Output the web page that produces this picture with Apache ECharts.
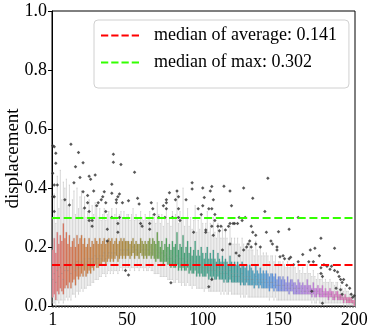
<!DOCTYPE html>
<html>
<head>
<meta charset="utf-8">
<script src="https://cdn.jsdelivr.net/npm/echarts@6/dist/echarts.min.js"></script>
<style>
  html, body { margin: 0; padding: 0; background: #fff; }
  #chart { width: 374px; height: 333px; }
</style>
</head>
<body>
<div id="chart"></div>
<script>
// box statistics per category (1..200)
const lowWhisker = [
  0.01,0.01,0.00,0.02,0.01,0.02,0.02,0.01,0.02,0.03,
  0.02,0.03,0.02,0.04,0.04,0.03,0.05,0.04,0.05,0.06,
  0.05,0.06,0.06,0.07,0.07,0.07,0.08,0.08,0.09,0.09,
  0.09,0.10,0.10,0.11,0.11,0.10,0.11,0.12,0.11,0.12,
  0.11,0.12,0.12,0.11,0.12,0.13,0.12,0.13,0.12,0.13,
  0.13,0.12,0.13,0.13,0.12,0.13,0.13,0.12,0.13,0.13,
  0.12,0.13,0.12,0.12,0.13,0.12,0.12,0.11,0.11,0.11,
  0.11,0.10,0.10,0.10,0.10,0.10,0.09,0.09,0.09,0.09,
  0.08,0.08,0.09,0.08,0.08,0.07,0.08,0.07,0.07,0.08,
  0.07,0.07,0.06,0.07,0.07,0.06,0.06,0.06,0.06,0.06,
  0.05,0.06,0.06,0.05,0.05,0.05,0.05,0.05,0.05,0.05,
  0.05,0.04,0.05,0.04,0.05,0.04,0.04,0.05,0.04,0.04,
  0.04,0.04,0.04,0.04,0.03,0.04,0.03,0.03,0.04,0.03,
  0.03,0.03,0.03,0.03,0.03,0.03,0.03,0.03,0.03,0.03,
  0.03,0.03,0.03,0.02,0.03,0.03,0.02,0.03,0.02,0.02,
  0.02,0.02,0.02,0.02,0.02,0.02,0.02,0.02,0.02,0.02,
  0.02,0.02,0.02,0.02,0.02,0.02,0.02,0.02,0.02,0.02,
  0.02,0.01,0.02,0.01,0.01,0.02,0.01,0.01,0.01,0.01,
  0.01,0.01,0.01,0.01,0.01,0.01,0.01,0.01,0.01,0.01,
  0.01,0.01,0.00,0.01,0.00,0.00,0.00,0.00,0.00,0.00
];
const q1 = [
  0.03,0.04,0.02,0.05,0.04,0.06,0.05,0.04,0.06,0.07,
  0.06,0.08,0.06,0.08,0.09,0.07,0.10,0.09,0.10,0.11,
  0.10,0.12,0.10,0.11,0.12,0.11,0.13,0.12,0.14,0.13,
  0.13,0.14,0.14,0.15,0.15,0.14,0.15,0.16,0.15,0.16,
  0.15,0.16,0.17,0.15,0.16,0.17,0.16,0.17,0.16,0.17,
  0.17,0.16,0.17,0.18,0.16,0.17,0.17,0.16,0.18,0.17,
  0.16,0.17,0.16,0.17,0.17,0.16,0.17,0.16,0.15,0.16,
  0.16,0.15,0.15,0.14,0.15,0.15,0.14,0.14,0.13,0.14,
  0.13,0.13,0.14,0.12,0.13,0.12,0.13,0.12,0.12,0.13,
  0.11,0.12,0.11,0.11,0.12,0.10,0.11,0.10,0.11,0.10,
  0.10,0.10,0.11,0.09,0.10,0.09,0.10,0.09,0.09,0.10,
  0.09,0.09,0.09,0.08,0.09,0.08,0.08,0.09,0.08,0.08,
  0.08,0.08,0.08,0.08,0.07,0.08,0.07,0.07,0.08,0.07,
  0.07,0.07,0.07,0.06,0.07,0.07,0.06,0.07,0.06,0.06,
  0.06,0.06,0.06,0.05,0.06,0.06,0.05,0.06,0.05,0.05,
  0.05,0.05,0.05,0.05,0.05,0.05,0.04,0.05,0.05,0.04,
  0.04,0.04,0.04,0.04,0.04,0.04,0.04,0.04,0.04,0.04,
  0.04,0.03,0.04,0.03,0.03,0.04,0.03,0.03,0.03,0.03,
  0.03,0.03,0.02,0.03,0.03,0.02,0.02,0.03,0.02,0.02,
  0.02,0.02,0.01,0.02,0.01,0.01,0.01,0.01,0.01,0.00
];
const medians = [
  0.09,0.11,0.08,0.12,0.10,0.13,0.11,0.09,0.12,0.13,
  0.12,0.14,0.11,0.13,0.14,0.12,0.15,0.13,0.14,0.15,
  0.14,0.16,0.14,0.15,0.16,0.14,0.16,0.15,0.17,0.16,
  0.16,0.17,0.16,0.17,0.18,0.16,0.17,0.18,0.17,0.18,
  0.17,0.18,0.19,0.17,0.18,0.19,0.18,0.19,0.18,0.19,
  0.19,0.18,0.19,0.20,0.18,0.19,0.19,0.18,0.20,0.19,
  0.18,0.19,0.18,0.19,0.20,0.18,0.19,0.18,0.17,0.19,
  0.18,0.17,0.18,0.16,0.17,0.18,0.16,0.17,0.16,0.17,
  0.15,0.16,0.17,0.15,0.16,0.15,0.16,0.14,0.15,0.16,
  0.14,0.15,0.13,0.14,0.15,0.13,0.14,0.13,0.14,0.13,
  0.12,0.13,0.14,0.12,0.13,0.12,0.13,0.12,0.11,0.13,
  0.12,0.11,0.12,0.11,0.12,0.11,0.10,0.12,0.11,0.10,
  0.11,0.10,0.11,0.10,0.09,0.11,0.10,0.09,0.10,0.09,
  0.10,0.09,0.09,0.08,0.10,0.09,0.08,0.09,0.08,0.09,
  0.08,0.09,0.08,0.07,0.08,0.08,0.07,0.08,0.07,0.07,
  0.07,0.06,0.07,0.07,0.06,0.07,0.06,0.06,0.07,0.06,
  0.06,0.05,0.06,0.06,0.05,0.06,0.05,0.05,0.06,0.05,
  0.05,0.04,0.05,0.05,0.04,0.05,0.04,0.04,0.05,0.04,
  0.04,0.04,0.03,0.04,0.04,0.03,0.03,0.04,0.03,0.03,
  0.03,0.03,0.02,0.03,0.02,0.02,0.02,0.02,0.01,0.01
];
const q3 = [
  0.19,0.23,0.18,0.25,0.21,0.24,0.22,0.28,0.23,0.25,
  0.21,0.24,0.20,0.22,0.23,0.20,0.24,0.21,0.23,0.24,
  0.21,0.23,0.20,0.21,0.23,0.20,0.22,0.21,0.23,0.22,
  0.21,0.23,0.21,0.22,0.23,0.21,0.22,0.23,0.22,0.23,
  0.21,0.22,0.23,0.21,0.22,0.23,0.22,0.23,0.22,0.22,
  0.22,0.21,0.22,0.23,0.21,0.22,0.21,0.21,0.23,0.22,
  0.21,0.22,0.21,0.22,0.23,0.21,0.23,0.22,0.21,0.25,
  0.22,0.20,0.22,0.19,0.21,0.23,0.20,0.21,0.19,0.22,
  0.20,0.21,0.25,0.19,0.21,0.20,0.24,0.18,0.20,0.22,
  0.18,0.20,0.17,0.19,0.22,0.17,0.19,0.17,0.20,0.18,
  0.16,0.18,0.20,0.16,0.18,0.16,0.19,0.16,0.15,0.18,
  0.16,0.15,0.17,0.15,0.16,0.15,0.14,0.17,0.15,0.14,
  0.15,0.14,0.15,0.14,0.13,0.15,0.14,0.13,0.14,0.12,
  0.14,0.13,0.12,0.11,0.14,0.12,0.11,0.13,0.11,0.12,
  0.11,0.12,0.11,0.10,0.11,0.11,0.10,0.11,0.09,0.10,
  0.10,0.09,0.10,0.09,0.08,0.10,0.08,0.09,0.09,0.08,
  0.08,0.07,0.09,0.08,0.07,0.08,0.07,0.07,0.09,0.07,
  0.07,0.06,0.08,0.06,0.06,0.07,0.06,0.06,0.07,0.05,
  0.06,0.05,0.05,0.06,0.05,0.05,0.04,0.05,0.05,0.04,
  0.04,0.04,0.03,0.04,0.03,0.03,0.03,0.03,0.02,0.02
];
const highWhisker = [
  0.30,0.38,0.28,0.44,0.33,0.46,0.36,0.42,0.40,0.43,
  0.34,0.41,0.30,0.36,0.39,0.31,0.40,0.33,0.37,0.39,
  0.33,0.37,0.30,0.32,0.36,0.30,0.34,0.31,0.35,0.33,
  0.30,0.33,0.29,0.31,0.33,0.29,0.31,0.32,0.30,0.33,
  0.30,0.31,0.33,0.29,0.31,0.32,0.30,0.32,0.30,0.31,
  0.31,0.29,0.31,0.33,0.29,0.31,0.30,0.29,0.32,0.30,
  0.29,0.31,0.29,0.30,0.32,0.29,0.31,0.30,0.28,0.35,
  0.31,0.28,0.31,0.27,0.30,0.33,0.28,0.30,0.27,0.32,
  0.30,0.31,0.39,0.28,0.32,0.30,0.40,0.27,0.30,0.33,
  0.27,0.30,0.26,0.29,0.34,0.25,0.29,0.26,0.31,0.28,
  0.25,0.28,0.32,0.25,0.28,0.24,0.30,0.25,0.23,0.28,
  0.25,0.23,0.27,0.23,0.25,0.23,0.21,0.27,0.23,0.21,
  0.23,0.21,0.23,0.21,0.20,0.23,0.21,0.20,0.21,0.19,
  0.21,0.19,0.19,0.17,0.22,0.19,0.17,0.20,0.17,0.18,
  0.17,0.18,0.17,0.15,0.17,0.17,0.15,0.17,0.14,0.15,
  0.15,0.14,0.15,0.14,0.13,0.15,0.13,0.14,0.14,0.13,
  0.13,0.11,0.14,0.12,0.11,0.13,0.11,0.11,0.14,0.11,
  0.11,0.10,0.12,0.10,0.09,0.11,0.09,0.09,0.11,0.08,
  0.09,0.08,0.08,0.09,0.08,0.08,0.07,0.08,0.08,0.06,
  0.07,0.06,0.05,0.06,0.05,0.05,0.04,0.04,0.03,0.03
];

// outliers: category number and value
const outlierCat = [
  1,2,1,3,3,4,2,2,2,1,
  13,18,16,21,15,19,21,12,9,
  25,29,26,24,24,25,25,28,22,27,27,
  30,31,33,34,35,36,36,
  41,41,40,40,46,43,44,45,43,47,
  37,37,44,44,40,45,49,
  55,51,57,58,59,60,65,65,66,67,68,
  74,76,76,76,78,82,83,84,89,93,93,
  100,100,97,99,71,75,80,85,94,102,51,79,84,84,
  106,105,107,114,118,127,133,143,101,104,106,108,108,119,141,
  102,106,107,110,111,112,115,117,118,120,121,123,124,126,128,
  132,133,135,142,130,131,132,135,138,145,146,149,151,
  113,118,122,124,127,129,104,106,
  150,157,163,178,187,174,171,166,
  149,153,154,157,158,160,163,170,173,177,
  180,182,184,185,187,189,178,178,179,
  190,191,192,193,195,197,198,199,200,188,191,192,179,172
];
const outlierVal = [
  0.543,0.54,0.45,0.518,0.484,0.41,0.41,0.37,0.32,0.37,
  0.548,0.52,0.472,0.486,0.418,0.436,0.387,0.342,0.36,
  0.44,0.444,0.43,0.375,0.35,0.32,0.29,0.39,0.332,0.29,0.27,
  0.34,0.35,0.36,0.37,0.387,0.35,0.32,
  0.514,0.487,0.413,0.382,0.48,0.36,0.37,0.38,0.35,0.35,
  0.26,0.22,0.28,0.25,0.30,0.30,0.12,
  0.453,0.357,0.365,0.346,0.28,0.27,0.28,0.26,0.35,0.33,0.31,
  0.34,0.36,0.35,0.33,0.384,0.36,0.39,0.37,0.36,0.418,0.397,
  0.40,0.34,0.33,0.31,0.30,0.30,0.30,0.29,0.25,0.25,0.105,0.079,0.33,0.30,
  0.405,0.39,0.36,0.406,0.39,0.40,0.365,0.433,0.368,0.33,0.33,0.31,0.29,0.34,0.32,
  0.258,0.27,0.24,0.27,0.255,0.27,0.258,0.27,0.28,0.28,0.28,0.28,0.30,0.29,0.30,
  0.27,0.25,0.24,0.25,0.21,0.22,0.20,0.21,0.20,0.22,0.21,0.20,0.167,
  0.19,0.21,0.18,0.17,0.19,0.20,0.065,0.09,
  0.252,0.26,0.30,0.23,0.196,0.196,0.19,0.175,
  0.19,0.17,0.16,0.16,0.165,0.14,0.15,0.15,0.15,0.17,
  0.14,0.135,0.125,0.135,0.12,0.115,0.13,0.11,0.10,
  0.10,0.09,0.08,0.09,0.07,0.06,0.04,0.03,0.035,0.06,0.055,0.04,0.009,0.05
];

const medianAvg = 0.141;
const medianMax = 0.302;
const tickLabels = ['1', '50', '100', '150', '200'];
const yTicks = [0, 0.2, 0.4, 0.6, 0.8, 1.0];

const categories = [];
for (let i = 1; i <= medians.length; i++) categories.push(String(i));

// husl-like palette, red -> orange -> olive -> green -> teal -> blue -> purple -> pink
const paletteStops = [
  [0.00, '#d96a78'], [0.04, '#d4684e'], [0.10, '#c8733a'], [0.20, '#b47d34'],
  [0.27, '#9c8634'], [0.31, '#848d33'], [0.35, '#56993f'], [0.40, '#3d9a63'],
  [0.50, '#34987f'], [0.60, '#32948f'], [0.68, '#3a92bd'], [0.73, '#528bd9'],
  [0.77, '#7c81dc'], [0.83, '#a676db'], [0.90, '#cc6ccc'], [1.00, '#da659a']
];
function hexRgb(h) {
  return [parseInt(h.slice(1, 3), 16), parseInt(h.slice(3, 5), 16), parseInt(h.slice(5, 7), 16)];
}
function paletteAt(t) {
  for (let k = 1; k < paletteStops.length; k++) {
    if (t <= paletteStops[k][0]) {
      const a = paletteStops[k - 1], b = paletteStops[k];
      const f = (t - a[0]) / (b[0] - a[0]);
      const ca = hexRgb(a[1]), cb = hexRgb(b[1]);
      return 'rgb(' + ca.map((v, j) => Math.round(v + (cb[j] - v) * f)).join(',') + ')';
    }
  }
  return paletteStops[paletteStops.length - 1][1];
}

const whiskerData = medians.map((m, i) => [lowWhisker[i], q1[i], m, q3[i], highWhisker[i]]);
const fillData = medians.map((m, i) => ({
  value: [i, q1[i], q3[i], m],
  itemStyle: { color: paletteAt(i / (medians.length - 1)) }
}));
const outlierData = outlierCat.map((c, i) => [c - 1, outlierVal[i]]);

const serif = 'Liberation Serif';
const dashIcon = 'path://M0,0h8v2h-8z M11.3,0h8v2h-8z M22.6,0h8v2h-8z M33.9,0h8v2h-8z';

const chart = echarts.init(document.getElementById('chart'), null, { renderer: 'canvas' });
chart.setOption({
  animation: false,
  grid: {
    left: 52, right: 19, top: 11, bottom: 27,
    outerBoundsMode: 'none',
    show: true, borderColor: '#000', borderWidth: 1, backgroundColor: 'transparent'
  },
  legend: {
    orient: 'vertical',
    left: 94, top: 20,
    padding: [6, 12, 16, 7],
    itemGap: 8,
    itemWidth: 38, itemHeight: 2.5,
    icon: dashIcon,
    backgroundColor: '#fff',
    borderColor: '#d0d0d0', borderWidth: 1, borderRadius: 4,
    data: ['median of average: ' + medianAvg, 'median of max: ' + medianMax],
    textStyle: { fontFamily: serif, fontSize: 18, lineHeight: 19, color: '#000', padding: [0, 0, 0, 10] }
  },
  xAxis: {
    type: 'category',
    data: categories,
    boundaryGap: true,
    axisLine: { lineStyle: { color: '#000', width: 1 } },
    axisTick: { show: true, interval: 0, length: 2, lineStyle: { color: '#555', width: 0.5 } },
    axisLabel: {
      interval: (idx, val) => tickLabels.indexOf(val) >= 0,
      fontFamily: serif, fontSize: 18, color: '#000', margin: 5
    },
    splitLine: { show: false }
  },
  yAxis: {
    type: 'value',
    min: yTicks[0], max: yTicks[yTicks.length - 1], interval: 0.2,
    name: 'displacement',
    nameLocation: 'middle',
    nameGap: 29,
    nameMoveOverlap: false,
    nameTextStyle: { fontFamily: serif, fontSize: 19, color: '#000' },
    axisLine: { show: true, lineStyle: { color: '#000', width: 1 } },
    axisTick: { show: true, length: 4, lineStyle: { color: '#000' } },
    axisLabel: { fontFamily: serif, fontSize: 18, color: '#000', margin: 5, formatter: v => v.toFixed(1) },
    splitLine: { show: false }
  },
  series: [
    {
      type: 'boxplot',
      data: whiskerData,
      boxWidth: ['80%', '80%'],
      itemStyle: { color: '#fff', borderColor: '#bdbdbd', borderWidth: 0.6 },
      emphasis: { disabled: true },
      silent: true,
      z: 2
    },
    {
      // coloured boxes (Q1..Q3) with a grey median tick
      type: 'custom',
      data: fillData,
      silent: true,
      z: 3,
      renderItem: (params, api) => {
        const i = api.value(0);
        const lo = api.coord([i, api.value(1)]);
        const hi = api.coord([i, api.value(2)]);
        const md = api.coord([i, api.value(3)]);
        const w = api.size([1, 0])[0] * 0.8;
        return {
          type: 'group',
          children: [
            { type: 'rect', shape: { x: lo[0] - w / 2, y: hi[1], width: w, height: Math.max(lo[1] - hi[1], 0.5) },
              style: { fill: api.visual('color'), opacity: 0.92 } },
            { type: 'line', shape: { x1: lo[0] - w / 2, y1: md[1], x2: lo[0] + w / 2, y2: md[1] },
              style: { stroke: '#8a8a8a', lineWidth: 0.5 } }
          ]
        };
      }
    },
    {
      type: 'scatter',
      data: outlierData,
      symbol: 'diamond',
      symbolSize: 3.5,
      itemStyle: { color: '#2e2e2e' },
      silent: true,
      z: 4
    },
    {
      name: 'median of average: ' + medianAvg,
      type: 'line',
      data: [],
      symbol: 'none',
      itemStyle: { color: '#ff0000' },
      lineStyle: { color: '#ff0000', type: [8, 3.7], width: 2.2 },
      markLine: {
        silent: true, symbol: 'none', label: { show: false },
        lineStyle: { color: '#ff0000', type: [8, 3.7], width: 2.2 },
        data: [{ yAxis: medianAvg }]
      },
      z: 5
    },
    {
      name: 'median of max: ' + medianMax,
      type: 'line',
      data: [],
      symbol: 'none',
      itemStyle: { color: '#33ff00' },
      lineStyle: { color: '#33ff00', type: [8, 3.7], width: 2.2 },
      markLine: {
        silent: true, symbol: 'none', label: { show: false },
        lineStyle: { color: '#33ff00', type: [8, 3.7], width: 2.2 },
        data: [{ yAxis: medianMax }]
      },
      z: 5
    }
  ]
});
</script>
</body>
</html>
